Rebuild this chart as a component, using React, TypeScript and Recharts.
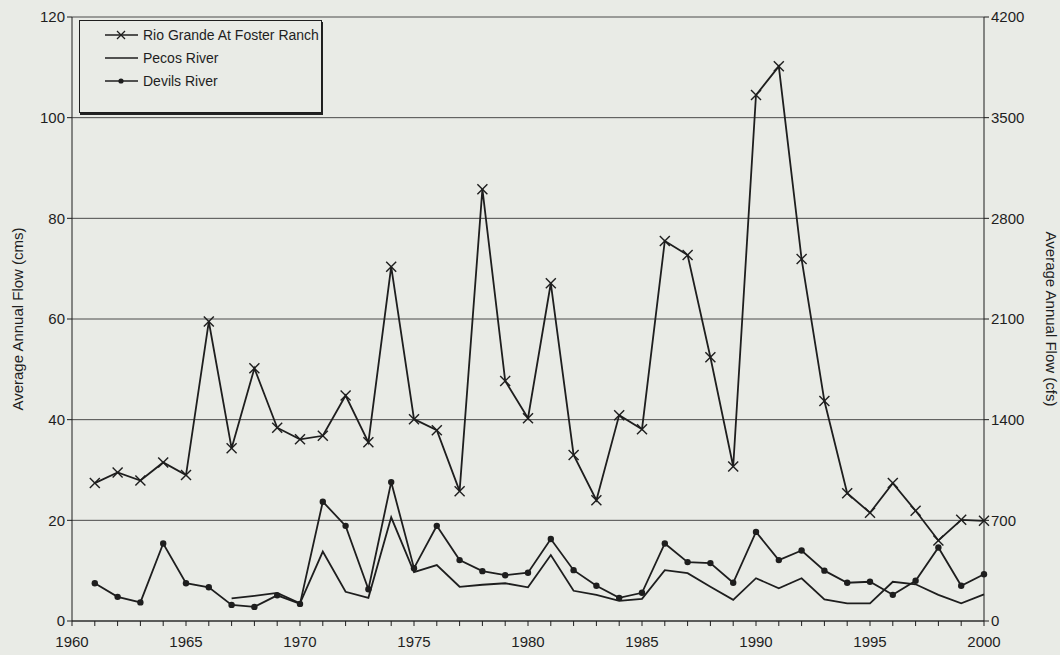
import { LineChart, Line, XAxis, YAxis, CartesianGrid } from "recharts";

const years = [
  1961, 1962, 1963, 1964, 1965, 1966, 1967, 1968, 1969, 1970,
  1971, 1972, 1973, 1974, 1975, 1976, 1977, 1978, 1979, 1980,
  1981, 1982, 1983, 1984, 1985, 1986, 1987, 1988, 1989, 1990,
  1991, 1992, 1993, 1994, 1995, 1996, 1997, 1998, 1999, 2000,
];

const rioGrande = [
  27.4, 29.5, 27.9, 31.5, 29.0, 59.5, 34.3, 50.2, 38.4, 36.1,
  36.8, 44.8, 35.5, 70.4, 40.1, 37.9, 25.8, 85.8, 47.7, 40.3,
  67.1, 33.0, 24.0, 40.9, 38.1, 75.5, 72.7, 52.4, 30.7, 104.5,
  110.2, 71.9, 43.7, 25.4, 21.5, 27.4, 21.9, 16.0, 20.1, 19.9,
];

const pecos: (number | null)[] = [
  null, null, null, null, null, null, 4.5, 5.0, 5.6, 3.5,
  13.8, 5.8, 4.6, 20.6, 9.7, 11.1, 6.8, 7.2, 7.5, 6.7,
  13.1, 6.0, 5.2, 4.0, 4.4, 10.1, 9.5, 6.8, 4.2, 8.5,
  6.5, 8.5, 4.3, 3.5, 3.5, 7.8, 7.3, 5.2, 3.5, 5.3,
];

const devils = [
  7.5, 4.8, 3.7, 15.4, 7.5, 6.7, 3.2, 2.8, 5.1, 3.4,
  23.7, 18.9, 6.3, 27.6, 10.5, 18.9, 12.1, 9.9, 9.1, 9.6,
  16.3, 10.1, 7.0, 4.6, 5.6, 15.4, 11.7, 11.5, 7.6, 17.7,
  12.1, 14.0, 10.0, 7.6, 7.8, 5.2, 8.0, 14.6, 7.0, 9.3,
];

const xTicks = Array.from({ length: 41 }, (_, i) => 1960 + i);
const cmsTicks = [0, 20, 40, 60, 80, 100, 120];
const cfsTicks = [0, 700, 1400, 2100, 2800, 3500, 4200];

const data = years.map((y, i) => ({
  year: y,
  rio: rioGrande[i],
  pecos: pecos[i],
  devils: devils[i],
}));

const ink = "#1e1e1e";
const bg = "#e9ebe6";
const font = "'Liberation Sans', Arial, sans-serif";
const tick = { fill: ink, fontSize: 15, fontFamily: font };

const Cross = (p: any) => {
  const { cx, cy } = p;
  if (cx == null || cy == null) return <g />;
  const s = 5;
  return (
    <g stroke={ink} strokeWidth={1.4}>
      <line x1={cx - s} y1={cy - s} x2={cx + s} y2={cy + s} />
      <line x1={cx - s} y1={cy + s} x2={cx + s} y2={cy - s} />
    </g>
  );
};

const Dot = (p: any) => {
  const { cx, cy } = p;
  if (cx == null || cy == null) return <g />;
  return <circle cx={cx} cy={cy} r={3.2} fill={ink} stroke="none" />;
};

// rotated axis title, placed inside the axis band
const AxisTitle = ({ viewBox, text, side }: any) => {
  const { x, y, width, height } = viewBox;
  const cx = side === "left" ? x + 17 : x + width - 9;
  const cy = y + height / 2;
  return (
    <text
      x={cx} y={cy} transform={`rotate(${side === "left" ? -90 : 90} ${cx} ${cy})`}
      textAnchor="middle" dominantBaseline="central" fill={ink} fontSize={15} fontFamily={font}
    >
      {text}
    </text>
  );
};

const legendRows = [
  { name: "Rio Grande At Foster Ranch", mark: "x" },
  { name: "Pecos River", mark: "" },
  { name: "Devils River", mark: "o" },
];

// legend drawn as an overlay so it doesn't eat plot space
const LegendBox = () => (
  <div
    style={{
      position: "absolute", left: 79, top: 20, width: 243, height: 93,
      border: `1px solid ${ink}`, boxShadow: "1px 2px 0 #222",
      background: bg, boxSizing: "border-box", paddingTop: 2, fontFamily: font,
    }}
  >
    {legendRows.map((r) => (
      <div key={r.name} style={{ display: "flex", alignItems: "center", height: 23, fontSize: 14, color: ink }}>
        <svg width={62} height={12}>
          <line x1={25} x2={58} y1={6} y2={6} stroke={ink} strokeWidth={1.5} />
          {r.mark === "x" && (
            <g stroke={ink} strokeWidth={1.3}>
              <line x1={37} y1={2} x2={45} y2={10} />
              <line x1={37} y1={10} x2={45} y2={2} />
            </g>
          )}
          {r.mark === "o" && <circle cx={41} cy={6} r={2.6} fill={ink} />}
        </svg>
        <span style={{ marginLeft: 1 }}>{r.name}</span>
      </div>
    ))}
  </div>
);

export default function App() {
  return (
    <div style={{ position: "absolute", left: 0, top: 0, width: 1060, height: 655, background: bg }}>
      <LineChart width={1060} height={655} data={data} margin={{ top: 17, right: 0, bottom: 0, left: 0 }}>
        <CartesianGrid horizontal vertical={false} stroke="#4a4a4a" strokeWidth={1} yAxisId="L" />
        <XAxis
          dataKey="year" type="number" domain={[1960, 2000]} ticks={xTicks} interval={0}
          tick={{ ...tick, dy: 8 }} tickFormatter={(v: number) => (v % 5 === 0 ? String(v) : "")}
          stroke={ink} tickSize={5} height={34}
        />
        <YAxis
          yAxisId="L" domain={[0, 120]} ticks={cmsTicks} tick={tick} stroke={ink} width={72} tickSize={5}
          label={(p: any) => <AxisTitle {...p} text="Average Annual Flow (cms)" side="left" />}
        />
        <YAxis
          yAxisId="R" orientation="right" domain={[0, 4200]} ticks={cfsTicks} tick={tick} stroke={ink} width={76} tickSize={5}
          allowDataOverflow
          label={(p: any) => <AxisTitle {...p} text="Average Annual Flow (cfs)" side="right" />}
        />
        <Line yAxisId="L" dataKey="rio" stroke={ink} strokeWidth={1.8} dot={<Cross />} isAnimationActive={false} />
        <Line yAxisId="L" dataKey="pecos" stroke={ink} strokeWidth={1.8} dot={false} isAnimationActive={false} />
        <Line yAxisId="L" dataKey="devils" stroke={ink} strokeWidth={1.8} dot={<Dot />} isAnimationActive={false} />
      </LineChart>
      <LegendBox />
    </div>
  );
}
